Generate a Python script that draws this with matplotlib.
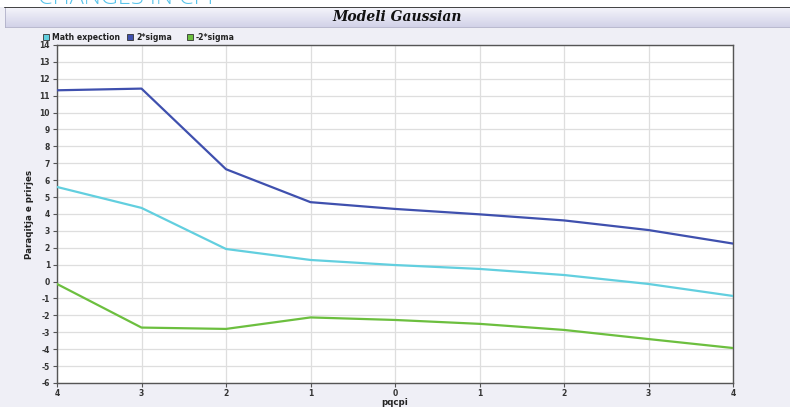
import numpy as np
import matplotlib
matplotlib.use('Agg')
from matplotlib import pyplot as plt
from matplotlib.patches import Rectangle

plt.rcParams['axes.unicode_minus'] = False

# data
x_labels = ['4', '3', '2', '1', '0', '1', '2', '3', '4']
math_exp = [5.6, 4.36, 1.93, 1.28, 0.98, 0.75, 0.39, -0.14, -0.85]
sigma_pos = [11.32, 11.42, 6.65, 4.7, 4.3, 3.98, 3.62, 3.05, 2.25]
sigma_neg = [-0.14, -2.72, -2.8, -2.12, -2.27, -2.5, -2.86, -3.4, -3.93]

c_math = '#62cfdf'
c_pos = '#3f50ae'
c_neg = '#6cbf3f'
bg = '#efeff6'

fig = plt.figure(figsize=(7.9, 4.07), dpi=100)
fig.patch.set_facecolor(bg)

# white strip on top with the cut-off heading
fig.patches.append(Rectangle((0, 400/407), 1, 7/407, transform=fig.transFigure,
                             facecolor='white', edgecolor='none', zorder=0))
fig.text(38/790, 403/407, 'CHANGES IN CPI', color='#5bc4ea', fontsize=17,
         family='Open Sans', weight='light', va='baseline', ha='left')

# header band
grad = np.linspace(0, 1, 50).reshape(-1, 1)
hax = fig.add_axes([5/790, 380/407, 785/790, 20/407])
hax.imshow(grad, aspect='auto', cmap=matplotlib.colors.LinearSegmentedColormap.from_list(
    'hdr', ['#f5f5fb', '#d2d2e8']), extent=[0, 1, 0, 1])
hax.set_xticks([])
hax.set_yticks([])
for s in ['left', 'right', 'bottom']:
    hax.spines[s].set_color('#b0b0c8')
    hax.spines[s].set_linewidth(0.6)
hax.spines['top'].set_color('#222222')
hax.spines['top'].set_linewidth(1.2)
hax.text(0.5, 0.5, 'Modeli Gaussian', transform=hax.transAxes, ha='center', va='center',
         family='DejaVu Serif', style='italic', weight='bold', fontsize=10, color='#111111')

# legend
leg_items = [('Math expection', c_math, 43), ('2*sigma', c_pos, 127), ('-2*sigma', c_neg, 187)]
for lab, col, px in leg_items:
    fig.patches.append(Rectangle((px/790, (407-40)/407), 6/790, 6/407, transform=fig.transFigure,
                                 facecolor=col, edgecolor='#333333', linewidth=0.6))
    fig.text((px + 9)/790, (407-37)/407, lab, fontsize=5.6, weight='bold',
             color='#222222', va='center', ha='left')

# main plot
ax = fig.add_axes([57/790, 24/407, 676/790, 338/407])
ax.set_facecolor('white')
xs = np.arange(len(x_labels))
ax.plot(xs, math_exp, color=c_math, linewidth=1.6, zorder=3)
ax.plot(xs, sigma_pos, color=c_pos, linewidth=1.6, zorder=3)
ax.plot(xs, sigma_neg, color=c_neg, linewidth=1.6, zorder=3)

ax.set_xlim(0, len(x_labels) - 1)
ax.set_ylim(-6, 14)
ax.set_xticks(xs)
ax.set_xticklabels(x_labels)
ax.set_yticks(np.arange(-6, 15, 1))
ax.grid(True, color='#dedede', linewidth=0.9, zorder=0)
ax.tick_params(labelsize=5.5, length=3, width=0.8, color='#555555', labelcolor='#333333', pad=2)
ax.tick_params(axis='x', pad=1.5)
for t in ax.get_xticklabels() + ax.get_yticklabels():
    t.set_fontweight('bold')
for s in ax.spines.values():
    s.set_color('#555555')
    s.set_linewidth(1.0)

ax.set_xlabel('pqcpi', fontsize=6.2, weight='bold', color='#222222', labelpad=0)
ax.set_ylabel('Paraqitja e prirjes', fontsize=6.3, weight='bold', color='#222222', labelpad=4)

plt.savefig('out.png', dpi=100, facecolor=fig.get_facecolor())
